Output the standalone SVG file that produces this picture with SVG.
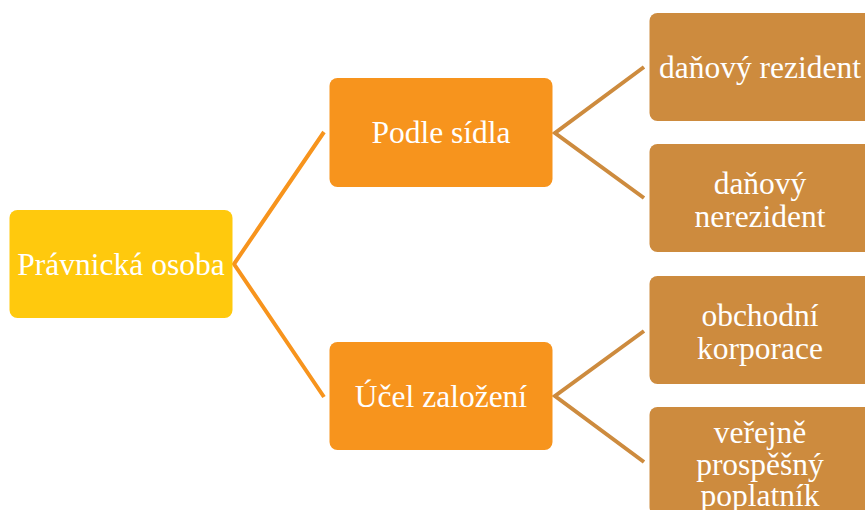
<svg xmlns="http://www.w3.org/2000/svg" width="865" height="510" viewBox="0 0 865 510">
<style>
text{font-size:31.5px;fill:#FFFFFF;text-anchor:middle}
.c1{fill:none;stroke:#F7941D;stroke-width:4}
.c2{fill:none;stroke:#CD8B3E;stroke-width:4}
.root{fill:#FFC90D}
.mid{fill:#F7941D}
.leaf{fill:#CD8B3E}
</style>
<rect width="865" height="510" fill="#FFFFFF"/>
<g id="connectors">
<polyline class="c1" points="324,132 234,264 324,397"/>
<polyline class="c2" points="644,67 555,133 644,198"/>
<polyline class="c2" points="644,331 555,396 644,462"/>
</g>
<g font-family="Liberation Serif">
<g id="root">
<rect class="root" x="9.5" y="210" width="223" height="108" rx="8"/>
<text x="121" y="275">Právnická osoba</text>
</g>
<g id="podle">
<rect class="mid" x="329.5" y="78" width="223" height="109" rx="8"/>
<text x="441" y="143">Podle sídla</text>
</g>
<g id="ucel">
<rect class="mid" x="329.5" y="342" width="223" height="108" rx="8"/>
<text x="441" y="407">Účel založení</text>
</g>
<g id="rezident">
<rect class="leaf" x="649.5" y="13" width="223" height="108" rx="8"/>
<text x="760" y="78">daňový rezident</text>
</g>
<g id="nerezident">
<rect class="leaf" x="649.5" y="144" width="223" height="108" rx="8"/>
<text x="760" y="194">daňový</text>
<text x="760" y="227">nerezident</text>
</g>
<g id="obchodni">
<rect class="leaf" x="649.5" y="276" width="223" height="108" rx="8"/>
<text x="760" y="326">obchodní</text>
<text x="760" y="359">korporace</text>
</g>
<g id="verejne">
<rect class="leaf" x="649.5" y="407" width="223" height="108" rx="8"/>
<text x="760" y="443">veřejně</text>
<text x="760" y="475">prospěšný</text>
<text x="760" y="506">poplatník</text>
</g>
</g>
</svg>
